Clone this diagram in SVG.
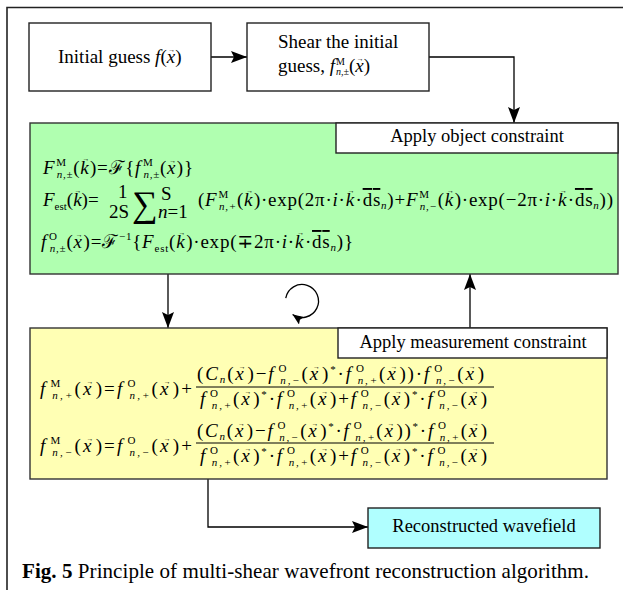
<svg xmlns="http://www.w3.org/2000/svg" width="623" height="590" viewBox="0 0 623 590">
<style>
.t{font-family:"Liberation Serif","DejaVu Serif",serif;fill:#000}
.i{font-style:italic}
.s{font-size:11px}
.v{font-size:7px;font-style:normal}
.box{stroke:#222;stroke-width:1.4}
.ln{fill:none;stroke:#000;stroke-width:1.3}
.ol{text-decoration:overline}
</style>
<defs>
<marker id="ah" markerUnits="userSpaceOnUse" markerWidth="16" markerHeight="12" refX="16" refY="6" orient="auto"><path d="M0,0 L16,6 L0,12 L3,6 z" fill="#000"/></marker>
<marker id="ah2" markerUnits="userSpaceOnUse" markerWidth="11" markerHeight="9" refX="11" refY="4.5" orient="auto"><path d="M0,0 L11,4.5 L0,9 L2,4.5 z" fill="#000"/></marker>
</defs>
<rect width="623" height="590" fill="#fff"/>
<path d="M7,590 V7.5 H623" fill="none" stroke="#222" stroke-width="1.6"/>

<g id="connectors">
<path class="ln" d="M211,57 H247" marker-end="url(#ah)"/>
<path class="ln" d="M429,57 H514 V123" marker-end="url(#ah)"/>
<path class="ln" d="M168,274 V328" marker-end="url(#ah)"/>
<path class="ln" d="M470,328 V274" marker-end="url(#ah)"/>
<path class="ln" d="M208,479 V527 H368" marker-end="url(#ah)"/>
<path class="ln" d="M285.75,298.13 A16.5,16.5 0 1 1 292.54,314.52" marker-end="url(#ah2)"/>
</g>

<g id="initial-guess">
<rect class="box" x="29" y="23" width="182" height="68" fill="#fff"/>
<text class="t" x="58" y="63" font-size="19">Initial guess <tspan class="i">f</tspan>(<tspan class="i">x</tspan><tspan class="v" dx="-7" dy="-11">→</tspan><tspan dy="11">)</tspan></text>
</g>

<g id="shear">
<rect class="box" x="247" y="23" width="182" height="68" fill="#fff"/>
<text class="t" x="278" y="48" font-size="19">Shear the initial</text>
<text class="t" x="278" y="72" font-size="19">guess, <tspan class="i">f</tspan><tspan font-size="10" dx="1" dy="-7">M</tspan><tspan font-size="10" class="i" dx="-9" dy="10">n,±</tspan><tspan dy="-3">(</tspan><tspan class="i">x</tspan><tspan class="v" dx="-7" dy="-11">→</tspan><tspan dy="11">)</tspan></text>
</g>

<g id="object-constraint">
<rect x="30" y="123" width="588" height="151" fill="#b0ffb0" stroke="#333" stroke-width="1.4"/>
<rect class="box" x="336" y="123" width="282" height="30" fill="#fff"/>
<text class="t" x="477" y="142" font-size="18.5" text-anchor="middle">Apply object constraint</text>
<text class="t" x="43" y="174" font-size="19" textLength="150"><tspan class="i">F</tspan><tspan class="s" dx="1" dy="-8">M</tspan><tspan class="s i" dx="-10" dy="12">n,±</tspan><tspan dy="-4">(</tspan><tspan class="i">k</tspan><tspan class="v" dx="-7" dy="-13">→</tspan><tspan dy="13">)=ℱ{</tspan><tspan class="i">f</tspan><tspan class="s" dx="2" dy="-8">M</tspan><tspan class="s i" dx="-10" dy="12">n,±</tspan><tspan dy="-4">(</tspan><tspan class="i">x</tspan><tspan class="v" dx="-7" dy="-11">→</tspan><tspan dy="11">)}</tspan></text>
<text class="t" x="43" y="206" font-size="19"><tspan class="i">F</tspan><tspan class="s" dy="4">est</tspan><tspan dy="-4">(</tspan><tspan class="i">k</tspan><tspan class="v" dx="-7" dy="-13">→</tspan><tspan dy="13">)=</tspan></text>
<text class="t" x="118" y="198" font-size="19">1</text>
<text class="t" x="109" y="218" font-size="19">2S</text>
<text class="t" x="132" y="216" font-size="36">∑</text>
<text class="t" x="161" y="200" font-size="19">S</text>
<text class="t" x="158" y="218" font-size="19"><tspan class="i">n</tspan>=1</text>
<text class="t" x="198" y="206" font-size="19" textLength="415">(<tspan class="i">F</tspan><tspan class="s" dx="1" dy="-8">M</tspan><tspan class="s i" dx="-10" dy="12">n,+</tspan><tspan dy="-4">(</tspan><tspan class="i">k</tspan><tspan class="v" dx="-7" dy="-13">→</tspan><tspan dy="13">)·exp(2π·</tspan><tspan class="i">i</tspan>·<tspan class="i">k</tspan><tspan class="v" dx="-7" dy="-13">→</tspan><tspan dy="13">·</tspan><tspan class="ol">ds</tspan><tspan class="s i" dy="3">n</tspan><tspan dy="-3">)+</tspan><tspan class="i">F</tspan><tspan class="s" dx="1" dy="-8">M</tspan><tspan class="s i" dx="-10" dy="12">n,−</tspan><tspan dy="-4">(</tspan><tspan class="i">k</tspan><tspan class="v" dx="-7" dy="-13">→</tspan><tspan dy="13">)·exp(−2π·</tspan><tspan class="i">i</tspan>·<tspan class="i">k</tspan><tspan class="v" dx="-7" dy="-13">→</tspan><tspan dy="13">·</tspan><tspan class="ol">ds</tspan><tspan class="s i" dy="3">n</tspan><tspan dy="-3">))</tspan></text>
<text class="t" x="41" y="248" font-size="19" textLength="312"><tspan class="i">f</tspan><tspan class="s" dx="2" dy="-8">O</tspan><tspan class="s i" dx="-8" dy="12">n,±</tspan><tspan dy="-4">(</tspan><tspan class="i">x</tspan><tspan class="v" dx="-7" dy="-11">→</tspan><tspan dy="11">)=ℱ</tspan><tspan class="s" dy="-8">−1</tspan><tspan dy="8">{</tspan><tspan class="i">F</tspan><tspan class="s" dy="4">est</tspan><tspan dy="-4">(</tspan><tspan class="i">k</tspan><tspan class="v" dx="-7" dy="-13">→</tspan><tspan dy="13">)·exp(∓2π·</tspan><tspan class="i">i</tspan>·<tspan class="i">k</tspan><tspan class="v" dx="-7" dy="-13">→</tspan><tspan dy="13">·</tspan><tspan class="ol">ds</tspan><tspan class="s i" dy="3">n</tspan><tspan dy="-3">)}</tspan></text>
</g>

<g id="measurement-constraint">
<rect x="30" y="328" width="577" height="151" fill="#ffffb4" stroke="#333" stroke-width="1.4"/>
<rect class="box" x="338" y="328" width="269" height="30" fill="#fff"/>
<text class="t" x="473" y="348" font-size="18.5" text-anchor="middle">Apply measurement constraint</text>
<text class="t" x="40" y="395" font-size="19" textLength="152"><tspan class="i">f</tspan><tspan class="s" dx="3" dy="-8">M</tspan><tspan class="s i" dx="-10" dy="12">n,+</tspan><tspan dy="-4">(</tspan><tspan class="i">x</tspan><tspan class="v" dx="-7" dy="-11">→</tspan><tspan dy="11">)=</tspan><tspan class="i">f</tspan><tspan class="s" dx="3" dy="-8">O</tspan><tspan class="s i" dx="-8" dy="12">n,+</tspan><tspan dy="-4">(</tspan><tspan class="i">x</tspan><tspan class="v" dx="-7" dy="-11">→</tspan><tspan dy="11">)+</tspan></text>
<text class="t" x="197" y="380" font-size="19" textLength="287">(<tspan class="i">C</tspan><tspan class="s i" dy="3">n</tspan><tspan dy="-3">(</tspan><tspan class="i">x</tspan><tspan class="v" dx="-7" dy="-11">→</tspan><tspan dy="11">)−</tspan><tspan class="i">f</tspan><tspan class="s" dx="3" dy="-8">O</tspan><tspan class="s i" dx="-8" dy="12">n,−</tspan><tspan dy="-4">(</tspan><tspan class="i">x</tspan><tspan class="v" dx="-7" dy="-11">→</tspan><tspan dy="11">)</tspan><tspan class="s" dy="-7">*</tspan><tspan dy="7">·</tspan><tspan class="i">f</tspan><tspan class="s" dx="3" dy="-8">O</tspan><tspan class="s i" dx="-8" dy="12">n,+</tspan><tspan dy="-4">(</tspan><tspan class="i">x</tspan><tspan class="v" dx="-7" dy="-11">→</tspan><tspan dy="11">))·</tspan><tspan class="i">f</tspan><tspan class="s" dx="3" dy="-8">O</tspan><tspan class="s i" dx="-8" dy="12">n,−</tspan><tspan dy="-4">(</tspan><tspan class="i">x</tspan><tspan class="v" dx="-7" dy="-11">→</tspan><tspan dy="11">)</tspan></text>
<path d="M196,387 H494" stroke="#000" stroke-width="1"/>
<text class="t" x="200" y="405" font-size="19" textLength="287"><tspan class="i">f</tspan><tspan class="s" dx="3" dy="-8">O</tspan><tspan class="s i" dx="-8" dy="12">n,+</tspan><tspan dy="-4">(</tspan><tspan class="i">x</tspan><tspan class="v" dx="-7" dy="-11">→</tspan><tspan dy="11">)</tspan><tspan class="s" dy="-7">*</tspan><tspan dy="7">·</tspan><tspan class="i">f</tspan><tspan class="s" dx="3" dy="-8">O</tspan><tspan class="s i" dx="-8" dy="12">n,+</tspan><tspan dy="-4">(</tspan><tspan class="i">x</tspan><tspan class="v" dx="-7" dy="-11">→</tspan><tspan dy="11">)+</tspan><tspan class="i">f</tspan><tspan class="s" dx="3" dy="-8">O</tspan><tspan class="s i" dx="-8" dy="12">n,−</tspan><tspan dy="-4">(</tspan><tspan class="i">x</tspan><tspan class="v" dx="-7" dy="-11">→</tspan><tspan dy="11">)</tspan><tspan class="s" dy="-7">*</tspan><tspan dy="7">·</tspan><tspan class="i">f</tspan><tspan class="s" dx="3" dy="-8">O</tspan><tspan class="s i" dx="-8" dy="12">n,−</tspan><tspan dy="-4">(</tspan><tspan class="i">x</tspan><tspan class="v" dx="-7" dy="-11">→</tspan><tspan dy="11">)</tspan></text>
<text class="t" x="40" y="452" font-size="19" textLength="152"><tspan class="i">f</tspan><tspan class="s" dx="3" dy="-8">M</tspan><tspan class="s i" dx="-10" dy="12">n,−</tspan><tspan dy="-4">(</tspan><tspan class="i">x</tspan><tspan class="v" dx="-7" dy="-11">→</tspan><tspan dy="11">)=</tspan><tspan class="i">f</tspan><tspan class="s" dx="3" dy="-8">O</tspan><tspan class="s i" dx="-8" dy="12">n,−</tspan><tspan dy="-4">(</tspan><tspan class="i">x</tspan><tspan class="v" dx="-7" dy="-11">→</tspan><tspan dy="11">)+</tspan></text>
<text class="t" x="197" y="437" font-size="19" textLength="290">(<tspan class="i">C</tspan><tspan class="s i" dy="3">n</tspan><tspan dy="-3">(</tspan><tspan class="i">x</tspan><tspan class="v" dx="-7" dy="-11">→</tspan><tspan dy="11">)−</tspan><tspan class="i">f</tspan><tspan class="s" dx="3" dy="-8">O</tspan><tspan class="s i" dx="-8" dy="12">n,−</tspan><tspan dy="-4">(</tspan><tspan class="i">x</tspan><tspan class="v" dx="-7" dy="-11">→</tspan><tspan dy="11">)</tspan><tspan class="s" dy="-7">*</tspan><tspan dy="7">·</tspan><tspan class="i">f</tspan><tspan class="s" dx="3" dy="-8">O</tspan><tspan class="s i" dx="-8" dy="12">n,+</tspan><tspan dy="-4">(</tspan><tspan class="i">x</tspan><tspan class="v" dx="-7" dy="-11">→</tspan><tspan dy="11">))</tspan><tspan class="s" dy="-7">*</tspan><tspan dy="7">·</tspan><tspan class="i">f</tspan><tspan class="s" dx="3" dy="-8">O</tspan><tspan class="s i" dx="-8" dy="12">n,+</tspan><tspan dy="-4">(</tspan><tspan class="i">x</tspan><tspan class="v" dx="-7" dy="-11">→</tspan><tspan dy="11">)</tspan></text>
<path d="M196,443 H494" stroke="#000" stroke-width="1"/>
<text class="t" x="200" y="462" font-size="19" textLength="287"><tspan class="i">f</tspan><tspan class="s" dx="3" dy="-8">O</tspan><tspan class="s i" dx="-8" dy="12">n,+</tspan><tspan dy="-4">(</tspan><tspan class="i">x</tspan><tspan class="v" dx="-7" dy="-11">→</tspan><tspan dy="11">)</tspan><tspan class="s" dy="-7">*</tspan><tspan dy="7">·</tspan><tspan class="i">f</tspan><tspan class="s" dx="3" dy="-8">O</tspan><tspan class="s i" dx="-8" dy="12">n,+</tspan><tspan dy="-4">(</tspan><tspan class="i">x</tspan><tspan class="v" dx="-7" dy="-11">→</tspan><tspan dy="11">)+</tspan><tspan class="i">f</tspan><tspan class="s" dx="3" dy="-8">O</tspan><tspan class="s i" dx="-8" dy="12">n,−</tspan><tspan dy="-4">(</tspan><tspan class="i">x</tspan><tspan class="v" dx="-7" dy="-11">→</tspan><tspan dy="11">)</tspan><tspan class="s" dy="-7">*</tspan><tspan dy="7">·</tspan><tspan class="i">f</tspan><tspan class="s" dx="3" dy="-8">O</tspan><tspan class="s i" dx="-8" dy="12">n,−</tspan><tspan dy="-4">(</tspan><tspan class="i">x</tspan><tspan class="v" dx="-7" dy="-11">→</tspan><tspan dy="11">)</tspan></text>
</g>

<g id="reconstructed">
<rect class="box" x="368" y="508" width="232" height="40" fill="#b0ffff"/>
<text class="t" x="484" y="532" font-size="18.5" text-anchor="middle">Reconstructed wavefield</text>
</g>

<g id="caption">
<text class="t" x="22" y="578" font-size="21" textLength="567"><tspan font-weight="bold">Fig. 5</tspan> Principle of multi-shear wavefront reconstruction algorithm.</text>
</g>
</svg>
